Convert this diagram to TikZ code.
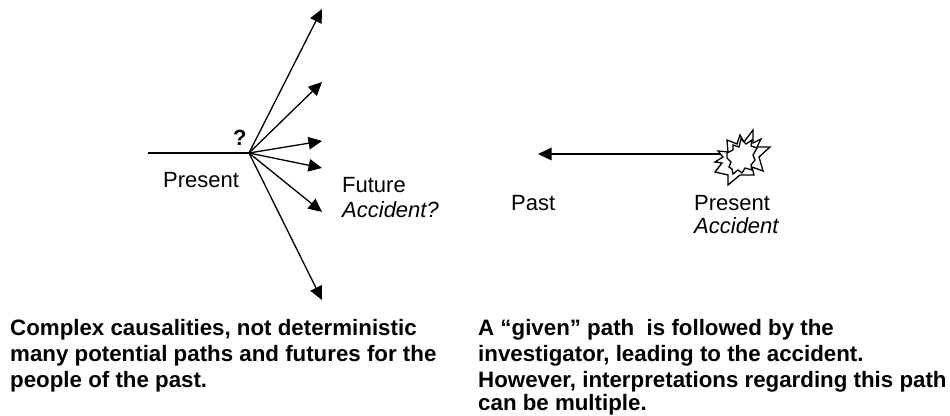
\documentclass[tikz,border=0pt]{standalone}
\usepackage{fontspec}
\setmainfont{Liberation Sans}
\usetikzlibrary{arrows.meta}
\tikzset{
  flow/.style={line width=1.3pt,-{Triangle[length=13.5pt,width=12.5pt]}},
  plain/.style={line width=1.3pt},
  lbl/.style={inner sep=0pt,anchor=base west,font=\fontsize{22}{26}\selectfont},
  capt/.style={inner sep=0pt,anchor=base west,font=\fontsize{22.3}{26}\selectfont\bfseries},
  burst/.style={line width=1.3pt,line join=miter,fill=white}
}
\begin{document}
\begin{tikzpicture}[x=1pt,y=-1pt]
\useasboundingbox (0,0) rectangle (950,415);
\coordinate (start) at (148,153);
\coordinate (hub) at (249,153);
\coordinate (t1) at (322,9);
\coordinate (t2) at (322,82);
\coordinate (t3) at (322,141);
\coordinate (t4) at (322,168);
\coordinate (t5) at (322,212);
\coordinate (t6) at (322,300);
\draw[plain] (start) -- (hub);
\foreach \t in {t1,t2,t3,t4,t5,t6} \draw[flow] (hub) -- (\t);
\node[lbl,font=\fontsize{22}{26}\selectfont\bfseries] (q) at (233,145) {?};
\node[lbl] (pres1) at (163,187) {Present};
\node[lbl] (fut) at (342,192) {Future};
\node[lbl] (acc1) at (342,217) {\itshape Accident?};
\coordinate (bstart) at (722,154);
\coordinate (btip) at (538,154);
\draw[flow] (bstart) -- (btip);
\node[lbl] (past) at (511,210) {Past};
\node[lbl] (pres2) at (694,210) {Present};
\node[lbl] (acc2) at (694,233) {\itshape Accident};
\draw[burst] (718,151)--(728,152)--(727,140)--(737,144)--(740,135)--(744,142)--(753,130)--(753,143)--(761,139)--(757,147)--(770,147)--(759,157)--(763,171)--(752,167)--(754,175)--(740,175)--(728,185)--(728,175)--(715,172)--(722,163)--(715,162)--(723,157)--cycle;
\draw[burst] (727,153)--(733,150)--(733,145)--(739,147)--(741,139)--(746,144)--(752,140)--(751,146)--(757,148)--(753,155)--(755,160)--(751,165)--(752,170)--(745,168)--(742,173)--(738,170)--(733,174)--(732,169)--(729,167)--(731,162)--(727,158)--cycle;
\node[capt] (c1a) at (10,335) {Complex causalities, not deterministic};
\node[capt] (c1b) at (10,361) {many potential paths and futures for the};
\node[capt] (c1c) at (10,387) {people of the past.};
\node[capt] (c2a) at (478,335) {A “given” path\ \ is followed by the};
\node[capt] (c2b) at (478,361) {investigator, leading to the accident.};
\node[capt] (c2c) at (478,387) {However, interpretations regarding this path};
\node[capt] (c2d) at (478,410) {can be multiple.};
\end{tikzpicture}
\end{document}
